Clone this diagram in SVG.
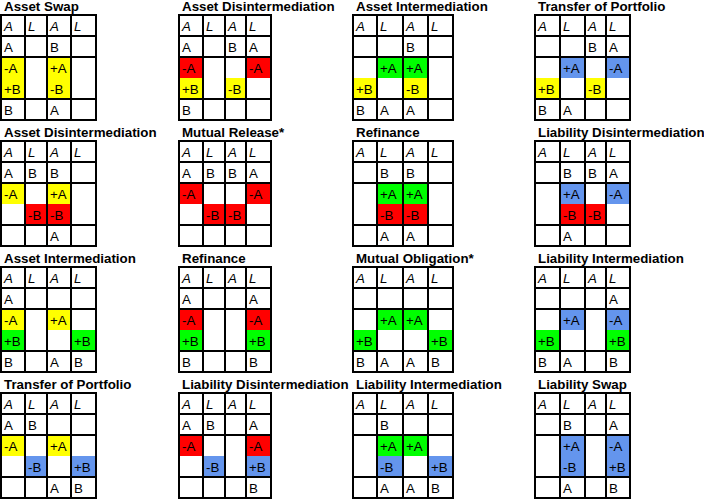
<svg xmlns="http://www.w3.org/2000/svg" xmlns:xlink="http://www.w3.org/1999/xlink" width="704" height="499" viewBox="0 0 704 499">
<style>
text{font-family:"Liberation Sans",Arial,sans-serif;font-size:13.33px;fill:#000}
.ttl{font-weight:bold}
.h{font-style:italic}
.gl{fill:none;stroke:#000;stroke-width:2}
.y{fill:#ffff00}.r{fill:#ff0000}.g{fill:#00ff00}.b{fill:#6495ed}
</style>
<defs>
<path id="gA" class="gl" d="M0 0H95V105H0Z M0 21H95M0 42H95M0 84H95M24 0V105M46 0V105M70 0V105"/>
<path id="gB" class="gl" d="M0 0H92V105H0Z M0 21H92M0 42H92M0 84H92M24 0V105M46 0V105M67 0V105"/>
<path id="gC" class="gl" d="M0 0H100V105H0Z M0 21H100M0 42H100M0 84H100M24 0V105M50 0V105M75 0V105"/>
<path id="gD" class="gl" d="M0 0H95V105H0Z M0 21H95M0 42H95M0 84H95M25 0V105M50 0V105M71 0V105"/>
</defs>
<rect width="704" height="499" fill="#fff"/>

<g id="t1" transform="translate(1,15)">
<text class="ttl" x="3" y="-4.5">Asset Swap</text>
<rect class="y" x="0" y="42" width="24" height="42"/><rect class="y" x="46" y="42" width="24" height="42"/>
<use xlink:href="#gA"/>
<text class="h" x="3" y="16">A</text><text class="h" x="27" y="16">L</text><text class="h" x="49" y="16">A</text><text class="h" x="73" y="16">L</text>
<text x="3" y="37">A</text><text x="49" y="37">B</text>
<text x="3" y="58">-A</text><text x="3" y="79">+B</text><text x="49" y="58">+A</text><text x="49" y="79">-B</text>
<text x="3" y="100">B</text><text x="49" y="100">A</text>
</g>

<g id="t2" transform="translate(179,15)">
<text class="ttl" x="3" y="-4.5">Asset Disintermediation</text>
<rect class="r" x="0" y="42" width="24" height="21"/><rect class="y" x="0" y="63" width="24" height="21"/><rect class="r" x="67" y="42" width="25" height="21"/><rect class="y" x="46" y="63" width="21" height="21"/>
<use xlink:href="#gB"/>
<text class="h" x="3" y="16">A</text><text class="h" x="27" y="16">L</text><text class="h" x="49" y="16">A</text><text class="h" x="70" y="16">L</text>
<text x="3" y="37">A</text><text x="49" y="37">B</text><text x="70" y="37">A</text>
<text x="3" y="58">-A</text><text x="3" y="79">+B</text><text x="49" y="79">-B</text><text x="70" y="58">-A</text>
<text x="3" y="100">B</text>
</g>

<g id="t3" transform="translate(353,15)">
<text class="ttl" x="3" y="-4.5">Asset Intermediation</text>
<rect class="g" x="24" y="42" width="26" height="21"/><rect class="g" x="50" y="42" width="25" height="21"/><rect class="y" x="0" y="63" width="24" height="21"/><rect class="y" x="50" y="63" width="25" height="21"/>
<use xlink:href="#gC"/>
<text class="h" x="3" y="16">A</text><text class="h" x="27" y="16">L</text><text class="h" x="53" y="16">A</text><text class="h" x="78" y="16">L</text>
<text x="53" y="37">B</text>
<text x="27" y="58">+A</text><text x="53" y="58">+A</text><text x="3" y="79">+B</text><text x="53" y="79">-B</text>
<text x="3" y="100">B</text><text x="27" y="100">A</text><text x="53" y="100">A</text>
</g>

<g id="t4" transform="translate(535,15)">
<text class="ttl" x="3" y="-4.5">Transfer of Portfolio</text>
<rect class="b" x="25" y="42" width="25" height="21"/><rect class="b" x="71" y="42" width="24" height="21"/><rect class="y" x="0" y="63" width="25" height="21"/><rect class="y" x="50" y="63" width="21" height="21"/>
<use xlink:href="#gD"/>
<text class="h" x="3" y="16">A</text><text class="h" x="28" y="16">L</text><text class="h" x="53" y="16">A</text><text class="h" x="74" y="16">L</text>
<text x="53" y="37">B</text><text x="74" y="37">A</text>
<text x="28" y="58">+A</text><text x="74" y="58">-A</text><text x="3" y="79">+B</text><text x="53" y="79">-B</text>
<text x="3" y="100">B</text><text x="28" y="100">A</text>
</g>

<g id="t5" transform="translate(1,141)">
<text class="ttl" x="3" y="-4.5">Asset Disintermediation</text>
<rect class="y" x="0" y="42" width="24" height="21"/><rect class="y" x="46" y="42" width="24" height="21"/><rect class="r" x="24" y="63" width="22" height="21"/><rect class="r" x="46" y="63" width="24" height="21"/>
<use xlink:href="#gA"/>
<text class="h" x="3" y="16">A</text><text class="h" x="27" y="16">L</text><text class="h" x="49" y="16">A</text><text class="h" x="73" y="16">L</text>
<text x="3" y="37">A</text><text x="27" y="37">B</text><text x="49" y="37">B</text>
<text x="3" y="58">-A</text><text x="49" y="58">+A</text><text x="27" y="79">-B</text><text x="49" y="79">-B</text>
<text x="49" y="100">A</text>
</g>

<g id="t6" transform="translate(179,141)">
<text class="ttl" x="3" y="-4.5">Mutual Release*</text>
<rect class="r" x="0" y="42" width="24" height="21"/><rect class="r" x="67" y="42" width="25" height="21"/><rect class="r" x="24" y="63" width="22" height="21"/><rect class="r" x="46" y="63" width="21" height="21"/>
<use xlink:href="#gB"/>
<text class="h" x="3" y="16">A</text><text class="h" x="27" y="16">L</text><text class="h" x="49" y="16">A</text><text class="h" x="70" y="16">L</text>
<text x="3" y="37">A</text><text x="27" y="37">B</text><text x="49" y="37">B</text><text x="70" y="37">A</text>
<text x="3" y="58">-A</text><text x="70" y="58">-A</text><text x="27" y="79">-B</text><text x="49" y="79">-B</text>
</g>

<g id="t7" transform="translate(353,141)">
<text class="ttl" x="3" y="-4.5">Refinance</text>
<rect class="g" x="24" y="42" width="26" height="21"/><rect class="g" x="50" y="42" width="25" height="21"/><rect class="r" x="24" y="63" width="26" height="21"/><rect class="r" x="50" y="63" width="25" height="21"/>
<use xlink:href="#gC"/>
<text class="h" x="3" y="16">A</text><text class="h" x="27" y="16">L</text><text class="h" x="53" y="16">A</text><text class="h" x="78" y="16">L</text>
<text x="27" y="37">B</text><text x="53" y="37">B</text>
<text x="27" y="58">+A</text><text x="53" y="58">+A</text><text x="27" y="79">-B</text><text x="53" y="79">-B</text>
<text x="27" y="100">A</text><text x="53" y="100">A</text>
</g>

<g id="t8" transform="translate(535,141)">
<text class="ttl" x="3" y="-4.5">Liability Disintermediation</text>
<rect class="b" x="25" y="42" width="25" height="21"/><rect class="b" x="71" y="42" width="24" height="21"/><rect class="r" x="25" y="63" width="25" height="21"/><rect class="r" x="50" y="63" width="21" height="21"/>
<use xlink:href="#gD"/>
<text class="h" x="3" y="16">A</text><text class="h" x="28" y="16">L</text><text class="h" x="53" y="16">A</text><text class="h" x="74" y="16">L</text>
<text x="28" y="37">B</text><text x="53" y="37">B</text><text x="74" y="37">A</text>
<text x="28" y="58">+A</text><text x="74" y="58">-A</text><text x="28" y="79">-B</text><text x="53" y="79">-B</text>
<text x="28" y="100">A</text>
</g>

<g id="t9" transform="translate(1,267)">
<text class="ttl" x="3" y="-4.5">Asset Intermediation</text>
<rect class="y" x="0" y="42" width="24" height="21"/><rect class="y" x="46" y="42" width="24" height="21"/><rect class="g" x="0" y="63" width="24" height="21"/><rect class="g" x="70" y="63" width="25" height="21"/>
<use xlink:href="#gA"/>
<text class="h" x="3" y="16">A</text><text class="h" x="27" y="16">L</text><text class="h" x="49" y="16">A</text><text class="h" x="73" y="16">L</text>
<text x="3" y="37">A</text>
<text x="3" y="58">-A</text><text x="49" y="58">+A</text><text x="3" y="79">+B</text><text x="73" y="79">+B</text>
<text x="3" y="100">B</text><text x="49" y="100">A</text><text x="73" y="100">B</text>
</g>

<g id="t10" transform="translate(179,267)">
<text class="ttl" x="3" y="-4.5">Refinance</text>
<rect class="r" x="0" y="42" width="24" height="21"/><rect class="r" x="67" y="42" width="25" height="21"/><rect class="g" x="0" y="63" width="24" height="21"/><rect class="g" x="67" y="63" width="25" height="21"/>
<use xlink:href="#gB"/>
<text class="h" x="3" y="16">A</text><text class="h" x="27" y="16">L</text><text class="h" x="49" y="16">A</text><text class="h" x="70" y="16">L</text>
<text x="3" y="37">A</text><text x="70" y="37">A</text>
<text x="3" y="58">-A</text><text x="70" y="58">-A</text><text x="3" y="79">+B</text><text x="70" y="79">+B</text>
<text x="3" y="100">B</text><text x="70" y="100">B</text>
</g>

<g id="t11" transform="translate(353,267)">
<text class="ttl" x="3" y="-4.5">Mutual Obligation*</text>
<rect class="g" x="24" y="42" width="26" height="21"/><rect class="g" x="50" y="42" width="25" height="21"/><rect class="g" x="0" y="63" width="24" height="21"/><rect class="g" x="75" y="63" width="25" height="21"/>
<use xlink:href="#gC"/>
<text class="h" x="3" y="16">A</text><text class="h" x="27" y="16">L</text><text class="h" x="53" y="16">A</text><text class="h" x="78" y="16">L</text>
<text x="27" y="58">+A</text><text x="53" y="58">+A</text><text x="3" y="79">+B</text><text x="78" y="79">+B</text>
<text x="3" y="100">B</text><text x="27" y="100">A</text><text x="53" y="100">A</text><text x="78" y="100">B</text>
</g>

<g id="t12" transform="translate(535,267)">
<text class="ttl" x="3" y="-4.5">Liability Intermediation</text>
<rect class="b" x="25" y="42" width="25" height="21"/><rect class="b" x="71" y="42" width="24" height="21"/><rect class="g" x="0" y="63" width="25" height="21"/><rect class="g" x="71" y="63" width="24" height="21"/>
<use xlink:href="#gD"/>
<text class="h" x="3" y="16">A</text><text class="h" x="28" y="16">L</text><text class="h" x="53" y="16">A</text><text class="h" x="74" y="16">L</text>
<text x="74" y="37">A</text>
<text x="28" y="58">+A</text><text x="74" y="58">-A</text><text x="3" y="79">+B</text><text x="74" y="79">+B</text>
<text x="3" y="100">B</text><text x="28" y="100">A</text><text x="74" y="100">B</text>
</g>

<g id="t13" transform="translate(1,393)">
<text class="ttl" x="3" y="-4.5">Transfer of Portfolio</text>
<rect class="y" x="0" y="42" width="24" height="21"/><rect class="y" x="46" y="42" width="24" height="21"/><rect class="b" x="24" y="63" width="22" height="21"/><rect class="b" x="70" y="63" width="25" height="21"/>
<use xlink:href="#gA"/>
<text class="h" x="3" y="16">A</text><text class="h" x="27" y="16">L</text><text class="h" x="49" y="16">A</text><text class="h" x="73" y="16">L</text>
<text x="3" y="37">A</text><text x="27" y="37">B</text>
<text x="3" y="58">-A</text><text x="49" y="58">+A</text><text x="27" y="79">-B</text><text x="73" y="79">+B</text>
<text x="49" y="100">A</text><text x="73" y="100">B</text>
</g>

<g id="t14" transform="translate(179,393)">
<text class="ttl" x="3" y="-4.5">Liability Disintermediation</text>
<rect class="r" x="0" y="42" width="24" height="21"/><rect class="r" x="67" y="42" width="25" height="21"/><rect class="b" x="24" y="63" width="22" height="21"/><rect class="b" x="67" y="63" width="25" height="21"/>
<use xlink:href="#gB"/>
<text class="h" x="3" y="16">A</text><text class="h" x="27" y="16">L</text><text class="h" x="49" y="16">A</text><text class="h" x="70" y="16">L</text>
<text x="3" y="37">A</text><text x="27" y="37">B</text><text x="70" y="37">A</text>
<text x="3" y="58">-A</text><text x="70" y="58">-A</text><text x="27" y="79">-B</text><text x="70" y="79">+B</text>
<text x="70" y="100">B</text>
</g>

<g id="t15" transform="translate(353,393)">
<text class="ttl" x="3" y="-4.5">Liability Intermediation</text>
<rect class="g" x="24" y="42" width="26" height="21"/><rect class="g" x="50" y="42" width="25" height="21"/><rect class="b" x="24" y="63" width="26" height="21"/><rect class="b" x="75" y="63" width="25" height="21"/>
<use xlink:href="#gC"/>
<text class="h" x="3" y="16">A</text><text class="h" x="27" y="16">L</text><text class="h" x="53" y="16">A</text><text class="h" x="78" y="16">L</text>
<text x="27" y="37">B</text>
<text x="27" y="58">+A</text><text x="53" y="58">+A</text><text x="27" y="79">-B</text><text x="78" y="79">+B</text>
<text x="27" y="100">A</text><text x="53" y="100">A</text><text x="78" y="100">B</text>
</g>

<g id="t16" transform="translate(535,393)">
<text class="ttl" x="3" y="-4.5">Liability Swap</text>
<rect class="b" x="25" y="42" width="25" height="42"/><rect class="b" x="71" y="42" width="24" height="42"/>
<use xlink:href="#gD"/>
<text class="h" x="3" y="16">A</text><text class="h" x="28" y="16">L</text><text class="h" x="53" y="16">A</text><text class="h" x="74" y="16">L</text>
<text x="28" y="37">B</text><text x="74" y="37">A</text>
<text x="28" y="58">+A</text><text x="28" y="79">-B</text><text x="74" y="58">-A</text><text x="74" y="79">+B</text>
<text x="28" y="100">A</text><text x="74" y="100">B</text>
</g>
</svg>
